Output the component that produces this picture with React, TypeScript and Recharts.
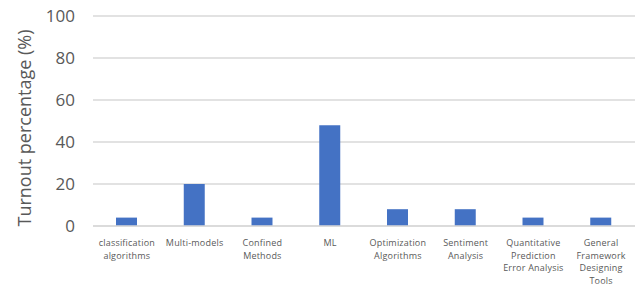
import React from "react";
import { BarChart, Bar, XAxis, YAxis, CartesianGrid } from "recharts";

const categories = [
  "classification\nalgorithms",
  "Multi-models",
  "Confined\nMethods",
  "ML",
  "Optimization\nAlgorithms",
  "Sentiment\nAnalysis",
  "Quantitative\nPrediction\nError Analysis",
  "General\nFramework\nDesigning\nTools",
];
const turnout = [4, 20, 4, 48, 8, 8, 4, 4];
const yTicks = [0, 20, 40, 60, 80, 100];
const yTitle = "Turnout percentage (%)";

const data = categories.map((c, i) => ({ name: c, value: turnout[i] }));

const XTick = (props: any) => {
  const { x, y, payload } = props;
  const lines = String(payload.value).split("\n");
  return (
    <text
      x={x}
      y={y}
      textAnchor="middle"
      fill="#595959"
      fontSize={9}
      fontFamily="'Open Sans', sans-serif"
      letterSpacing={0.2}
    >
      {lines.map((l: string, i: number) => (
        <tspan key={i} x={x} dy={i === 0 ? 12 : 12.7}>
          {l}
        </tspan>
      ))}
    </text>
  );
};

const YTitle = () => (
  <text
    x={0}
    y={0}
    transform="translate(31,128) rotate(-90)"
    textAnchor="middle"
    fill="#595959"
    fontSize={18}
    fontFamily="'Open Sans', sans-serif"
  >
    {yTitle}
  </text>
);

export default function App() {
  return (
    <div style={{ position: "absolute", left: 0, top: 0, background: "#fff" }}>
      <BarChart
        width={637}
        height={289}
        data={data}
        margin={{ top: 16, right: 2, bottom: 33, left: 0 }}
      >
        <CartesianGrid vertical={false} stroke="#d9d9d9" strokeWidth={1.3} />
        <XAxis
          dataKey="name"
          interval={0}
          height={30}
          axisLine={{ stroke: "#d9d9d9", strokeWidth: 1.3 }}
          tickLine={false}
          tick={<XTick />}
        />
        <YAxis
          width={93}
          domain={[0, 100]}
          ticks={yTicks}
          axisLine={false}
          tickLine={false}
          tickSize={0}
          tickMargin={18}
          tick={{ fill: "#595959", fontSize: 17, fontFamily: "'Open Sans', sans-serif" }}
          label={<YTitle />}
        />
        <Bar dataKey="value" fill="#4472C4" barSize={21} isAnimationActive={false} />
      </BarChart>
    </div>
  );
}
